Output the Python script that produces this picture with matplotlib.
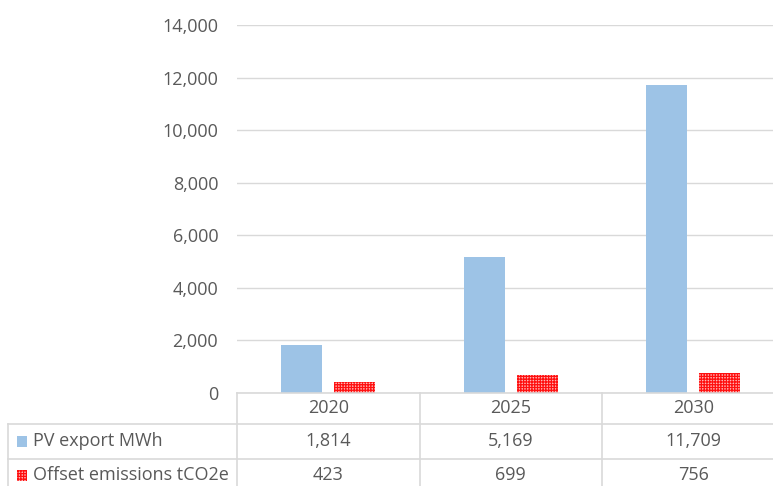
import matplotlib
matplotlib.use("Agg")
import matplotlib.pyplot as plt
from matplotlib.patches import Rectangle
import matplotlib.transforms as mtransforms

# Data
years = ["2020", "2025", "2030"]
pv_export = [1814, 5169, 11709]          # MWh
offset_emissions = [423, 699, 756]       # tCO2e
series_names = ["PV export MWh", "Offset emissions tCO2e"]

W, H = 773, 486
plt.rcParams['font.family'] = ['Open Sans', 'DejaVu Sans']
plt.rcParams['hatch.linewidth'] = 0.9
fig = plt.figure(figsize=(W / 100, H / 100), dpi=100)

# plot area in pixels (right edge runs past the image, as in the original)
x0, x1 = 237, 784.5
y_zero, y_top = 393, 25
ax = fig.add_axes([x0 / W, (H - y_zero) / H, (x1 - x0) / W, (y_zero - y_top) / H])

grey = "#D9D9D9"
text_col = "#595959"
blue = "#9DC3E6"
pink = "#ffb8b8"
hatch = "++++++"
fs = 13

idx = range(len(years))
bw = 0.225
ax.bar([i - 0.145 for i in idx], pv_export, bw, color=blue, zorder=2)
ax.bar([i + 0.145 for i in idx], offset_emissions, bw, facecolor=pink,
       edgecolor="#ff1010", hatch=hatch, linewidth=0, zorder=2)

ax.set_xlim(-0.5, 2.5)
ax.set_ylim(0, 14000)
ax.set_yticks(range(0, 14001, 2000))
ax.set_yticklabels([f"{v:,}" for v in range(0, 14001, 2000)])
ax.tick_params(axis="y", length=0, pad=13.5, labelsize=fs, labelcolor=text_col)
ax.set_xticks([])
ax.grid(axis="y", color=grey, linewidth=1, zorder=0)
for s in ["top", "right", "left", "bottom"]:
    ax.spines[s].set_visible(False)

# data table under the axes
tr = mtransforms.blended_transform_factory(ax.transData, fig.transFigure)
fy = lambda py: (H - py) / H
fx = lambda px: px / W
px_per_unit = (x1 - x0) / 3.0
x_label_left = -0.5 - (x0 - 8) / px_per_unit

row_lines = [393, 424, 459, 494]
centers = [408, 441, 475]

def hline(xa, xb, py):
    fig.add_artist(plt.Line2D([xa, xb], [fy(py), fy(py)], transform=tr,
                              color=grey, linewidth=1.2))

def vline(xd, pa, pb):
    fig.add_artist(plt.Line2D([xd, xd], [fy(pa), fy(pb)], transform=tr,
                              color=grey, linewidth=1.2))

hline(-0.5, 2.5, row_lines[0])
for py in row_lines[1:]:
    hline(x_label_left, 2.5, py)
for b in [-0.5, 0.5, 1.5, 2.5]:
    vline(b, row_lines[0], row_lines[-1])
vline(x_label_left, row_lines[1], row_lines[-1])

for i, y in enumerate(years):
    fig.text(i, fy(centers[0]), y, transform=tr, ha="center", va="center",
             fontsize=fs, color=text_col)

rows = [pv_export, offset_emissions]
for r, vals in enumerate(rows):
    for i, v in enumerate(vals):
        fig.text(i, fy(centers[r + 1]), f"{v:,}", transform=tr, ha="center",
                 va="center", fontsize=fs, color=text_col)
    fig.text(fx(33), fy(centers[r + 1]), series_names[r], ha="left", va="center",
             fontsize=fs, color=text_col)

# legend keys in the table
fig.add_artist(Rectangle((fx(17), fy(centers[1] + 5.5)), 10 / W, 11 / H,
                         transform=fig.transFigure, facecolor=blue, linewidth=0))
fig.add_artist(Rectangle((fx(17), fy(centers[2] + 5.5)), 10 / W, 11 / H,
                         transform=fig.transFigure, facecolor=pink,
                         edgecolor="#ff1010", hatch=hatch, linewidth=0))

fig.savefig("out.png", dpi=100)
